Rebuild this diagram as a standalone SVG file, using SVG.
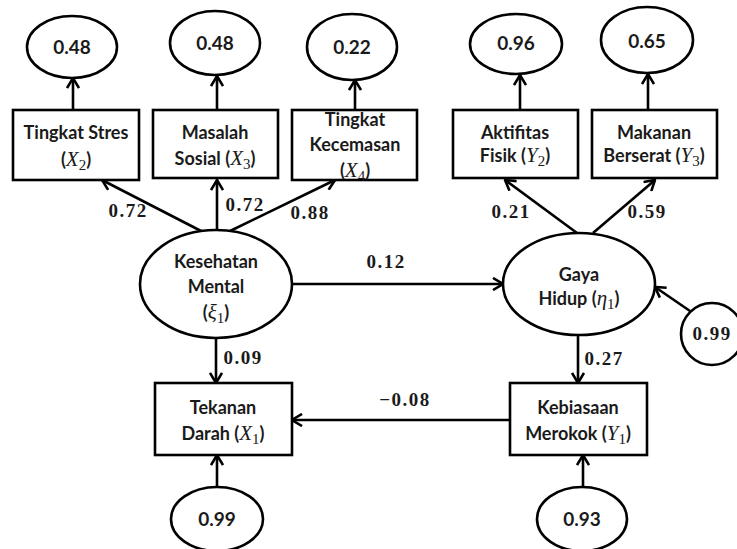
<svg xmlns="http://www.w3.org/2000/svg" width="737" height="549" viewBox="0 0 737 549">
<style>
  .shape { fill: #fff; stroke: #000; stroke-width: 2.6; }
  .conn { stroke: #000; stroke-width: 2.6; fill: none; marker-end: url(#arr); }
  .t { font-family: Lato, "Open Sans", "Liberation Sans", sans-serif; font-weight: bold; font-size: 18px; fill: #1a1a1a; text-anchor: middle; }
  .n { font-size: 19px; }
  .m { font-family: "Liberation Serif", "DejaVu Serif", serif; font-style: italic; font-weight: normal; font-size: 21px; }
  .s { font-family: "Liberation Serif", "DejaVu Serif", serif; font-weight: normal; font-style: normal; font-size: 15px; }
  .c { font-family: "Liberation Serif", "DejaVu Serif", serif; font-weight: bold; font-size: 19px; fill: #1a1a1a; text-anchor: middle; letter-spacing: 1.5px; }
</style>
<defs>
  <marker id="arr" markerUnits="userSpaceOnUse" markerWidth="12" markerHeight="14" viewBox="0 0 12 14" refX="11" refY="7" orient="auto">
    <path d="M1,1 L11,7 L1,13" fill="none" stroke="#000" stroke-width="2.6"/>
  </marker>
</defs>
<rect width="737" height="549" fill="#fff"/>

<g id="connectors">
  <line class="conn" x1="73" y1="110" x2="73" y2="78"/>
  <line class="conn" x1="217" y1="110" x2="217" y2="76"/>
  <line class="conn" x1="355" y1="110" x2="355" y2="80"/>
  <line class="conn" x1="520" y1="110" x2="520" y2="75"/>
  <line class="conn" x1="648" y1="110" x2="648" y2="74"/>
  <line class="conn" x1="203" y1="232" x2="102" y2="180"/>
  <line class="conn" x1="217" y1="230" x2="217" y2="180"/>
  <line class="conn" x1="228" y1="232" x2="335" y2="180"/>
  <line class="conn" x1="577" y1="233" x2="505" y2="180"/>
  <line class="conn" x1="593" y1="233" x2="655" y2="180"/>
  <line class="conn" x1="293" y1="284" x2="503" y2="284"/>
  <line class="conn" x1="690" y1="311" x2="655" y2="287"/>
  <line class="conn" x1="216" y1="338" x2="216" y2="383"/>
  <line class="conn" x1="578" y1="335" x2="578" y2="383"/>
  <line class="conn" x1="510" y1="420" x2="292" y2="420"/>
  <line class="conn" x1="217" y1="487" x2="217" y2="455"/>
  <line class="conn" x1="583" y1="487" x2="583" y2="455"/>
  <text class="c" x="128" y="217">0.72</text>
  <text class="c" x="245" y="211">0.72</text>
  <text class="c" x="310" y="219">0.88</text>
  <text class="c" x="511" y="218">0.21</text>
  <text class="c" x="647" y="218">0.59</text>
  <text class="c" x="386" y="268">0.12</text>
  <text class="c" x="243" y="364">0.09</text>
  <text class="c" x="604" y="365">0.27</text>
  <text class="c" x="405" y="406">−0.08</text>
</g>

<g id="e_x2"><ellipse class="shape" cx="72" cy="47" rx="45" ry="31"/><text class="t n" x="72" y="54">0.48</text></g>
<g id="e_x3"><ellipse class="shape" cx="215" cy="43" rx="45" ry="32"/><text class="t n" x="215" y="50">0.48</text></g>
<g id="e_x4"><ellipse class="shape" cx="352" cy="47" rx="45" ry="33"/><text class="t n" x="352" y="54">0.22</text></g>
<g id="e_y2"><ellipse class="shape" cx="516" cy="44" rx="46" ry="30"/><text class="t n" x="516" y="50">0.96</text></g>
<g id="e_y3"><ellipse class="shape" cx="647" cy="40" rx="46" ry="33"/><text class="t n" x="647" y="48">0.65</text></g>

<g id="x2"><rect class="shape" x="13" y="110" width="126" height="70"/>
  <text class="t" x="76" y="139">Tingkat Stres</text>
  <text class="t" x="76" y="166">(<tspan class="m">X</tspan><tspan class="s" dy="4">2</tspan><tspan dy="-4">)</tspan></text></g>
<g id="x3"><rect class="shape" x="153" y="110" width="125" height="68"/>
  <text class="t" x="215" y="139">Masalah</text>
  <text class="t" x="215" y="165">Sosial (<tspan class="m">X</tspan><tspan class="s" dy="4">3</tspan><tspan dy="-4">)</tspan></text></g>
<g id="x4"><rect class="shape" x="292" y="110" width="125" height="70"/>
  <text class="t" x="355" y="126">Tingkat</text>
  <text class="t" x="355" y="151">Kecemasan</text>
  <text class="t" x="355" y="177">(<tspan class="m">X</tspan><tspan class="s" dy="4">4</tspan><tspan dy="-4">)</tspan></text></g>
<g id="y2"><rect class="shape" x="453" y="110" width="125" height="68"/>
  <text class="t" x="515" y="139">Aktifitas</text>
  <text class="t" x="515" y="162">Fisik (<tspan class="m">Y</tspan><tspan class="s" dy="4">2</tspan><tspan dy="-4">)</tspan></text></g>
<g id="y3"><rect class="shape" x="592" y="110" width="125" height="68"/>
  <text class="t" x="654" y="139">Makanan</text>
  <text class="t" x="654" y="162">Berserat (<tspan class="m">Y</tspan><tspan class="s" dy="4">3</tspan><tspan dy="-4">)</tspan></text></g>

<g id="ksi1"><ellipse class="shape" cx="216" cy="284" rx="76" ry="54"/>
  <text class="t" x="216" y="268">Kesehatan</text>
  <text class="t" x="216" y="293">Mental</text>
  <text class="t" x="216" y="319">(<tspan class="m">ξ</tspan><tspan class="s" dy="4">1</tspan><tspan dy="-4">)</tspan></text></g>
<g id="eta1"><ellipse class="shape" cx="579" cy="284" rx="76" ry="51"/>
  <text class="t" x="579" y="281">Gaya</text>
  <text class="t" x="579" y="305">Hidup (<tspan class="m">η</tspan><tspan class="s" dy="4">1</tspan><tspan dy="-4">)</tspan></text></g>
<g id="zeta"><ellipse class="shape" cx="712" cy="334" rx="31" ry="31"/>
  <text class="c" x="712" y="340">0.99</text></g>

<g id="x1"><rect class="shape" x="155" y="383" width="137" height="72"/>
  <text class="t" x="223" y="414">Tekanan</text>
  <text class="t" x="223" y="440">Darah (<tspan class="m">X</tspan><tspan class="s" dy="4">1</tspan><tspan dy="-4">)</tspan></text></g>
<g id="y1"><rect class="shape" x="510" y="383" width="137" height="72"/>
  <text class="t" x="578" y="414">Kebiasaan</text>
  <text class="t" x="578" y="440">Merokok  (<tspan class="m">Y</tspan><tspan class="s" dy="4">1</tspan><tspan dy="-4">)</tspan></text></g>

<g id="e_x1"><ellipse class="shape" cx="217" cy="519" rx="46" ry="32"/><text class="t n" x="217" y="526">0.99</text></g>
<g id="e_y1"><ellipse class="shape" cx="582" cy="519" rx="45" ry="32"/><text class="t n" x="582" y="526">0.93</text></g>
</svg>
